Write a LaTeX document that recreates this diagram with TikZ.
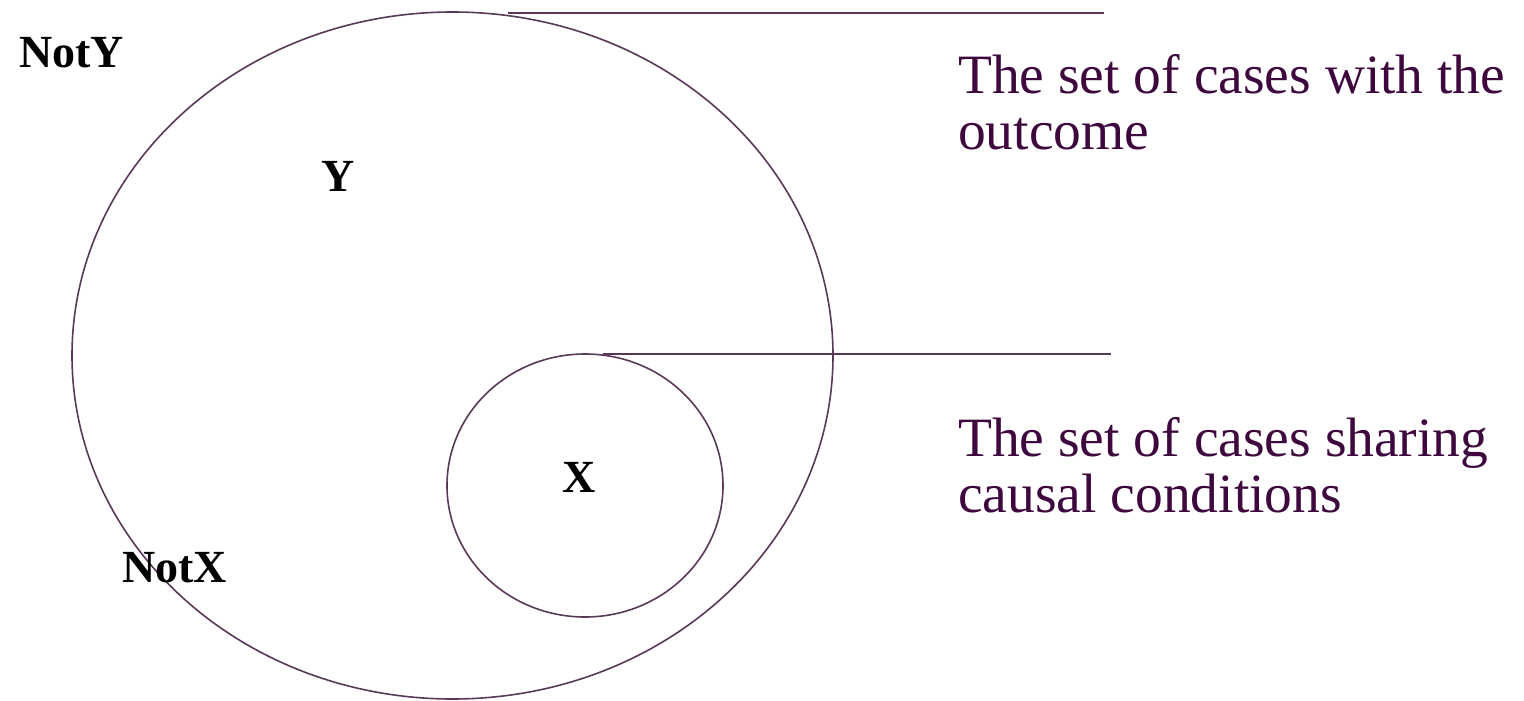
\documentclass[tikz,border=0pt]{standalone}
\usepackage{fontspec}
\setmainfont{Liberation Serif}
\definecolor{linecol}{RGB}{88,58,88}
\definecolor{textcol}{RGB}{62,8,62}
\begin{document}
\begin{tikzpicture}[x=1pt,y=-1pt,
  setline/.style={draw=linecol,line width=1.6pt},
  lbl/.style={font=\fontsize{46}{46}\selectfont\bfseries,text=black,inner sep=0pt,anchor=base west},
  desc/.style={font=\fontsize{55.5}{55.5}\selectfont,text=textcol,inner sep=0pt,anchor=base west}]
\useasboundingbox (0,0) rectangle (1524,701);
\fill[white] (0,0) rectangle (1524,701);
\draw[setline] (452.5,355.5) ellipse [x radius=380.5, y radius=343.5];
\draw[setline] (585,485.5) ellipse [x radius=138, y radius=131.5];
\coordinate (ys) at (508,13);
\coordinate (ye) at (1104,13);
\coordinate (xs) at (603,354);
\coordinate (xe) at (1111,354);
\draw[setline] (ys) -- (ye);
\draw[setline] (xs) -- (xe);
\node[lbl] (noty) at (19,68) {NotY};
\node[lbl] (y) at (321,191) {Y};
\node[lbl] (x) at (562,492) {X};
\node[lbl] (notx) at (122,582) {NotX};
\node[desc] (d1a) at (958,93) {The set of cases with the};
\node[desc] (d1b) at (958,149) {outcome};
\node[desc] (d2a) at (958,456) {The set of cases sharing};
\node[desc] (d2b) at (958,512) {causal conditions};
\end{tikzpicture}
\end{document}
